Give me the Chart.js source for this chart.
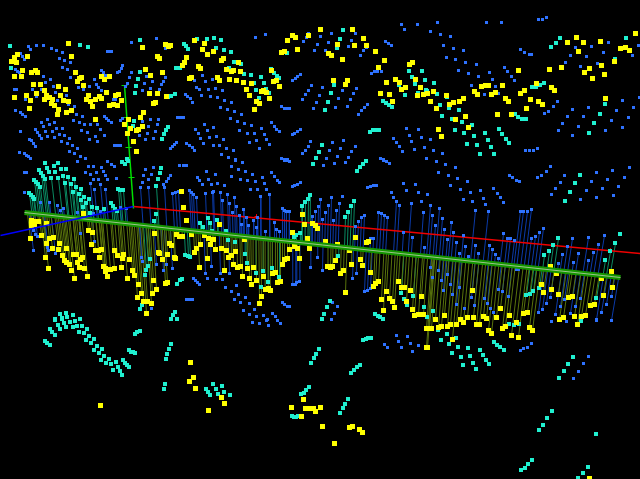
<!DOCTYPE html>
<html>
<head>
<meta charset="utf-8">
<title>3D scatter</title>
<style>
  html, body { margin: 0; padding: 0; background: #000; overflow: hidden; }
  canvas { display: block; }
</style>
<script src="https://cdn.jsdelivr.net/npm/chart.js@4"></script>
</head>
<body>
<canvas id="plot" width="640" height="479"></canvas>
<script>
// Points, [x, y] in projected plot units
const yellowPoints = [
  [68,43],[71,56],[142,47],[27,56],[17,54],[14,57],[11,61],[16,62],[22,70],[14,76],[21,76],[31,72],[35,70],[37,72],[33,84],[40,84],[44,90],[26,95],[14,97],[30,100],[36,93],[46,95],[44,99],[49,97],[52,99],[51,103],[54,105],[58,86],[65,89],[60,95],[63,100],[68,101],[58,109],[57,114],[66,112],[71,110],[29,108],[75,72],[81,77],[77,81],[79,78],[83,85],[101,76],[104,79],[109,76],[106,92],[88,95],[86,99],[90,101],[92,106],[95,99],[99,96],[101,98],[115,95],[118,94],[121,100],[109,105],[113,104],[117,105],[95,119],[124,124],[128,119],[140,117],[143,112],[142,126],[136,130],[138,129],[130,128],[127,133],[133,141],[136,151],[145,69],[150,75],[162,72],[149,93],[157,93],[153,103],[155,102],[166,96],[157,56],[159,58],[165,44],[168,46],[170,45],[194,40],[204,43],[202,49],[207,54],[213,51],[186,57],[184,62],[182,65],[198,66],[200,68],[189,78],[191,77],
  [320,29],[352,29],[292,35],[295,37],[287,40],[308,35],[297,49],[281,52],[284,51],[337,44],[354,45],[363,38],[366,45],[375,51],[328,53],[331,55],[342,59],[384,60],[378,67],[409,64],[412,62],[415,79],[386,82],[395,79],[399,82],[401,89],[405,87],[420,87],[380,93],[389,94],[392,101],[417,95],[423,94],[333,80],[347,80],[345,84],[221,60],[223,58],[238,62],[226,69],[231,71],[233,70],[240,71],[217,77],[219,80],[229,79],[236,80],[243,82],[251,83],[271,70],[273,81],[276,80],[279,86],[246,89],[249,95],[261,91],[263,90],[266,92],[269,98],[256,101],[259,103],[254,109],
  [576,37],[567,42],[583,42],[600,41],[635,33],[620,48],[625,47],[629,50],[578,51],[614,61],[601,65],[589,68],[584,72],[604,74],[592,78],[561,67],[549,69],[518,70],[536,83],[551,87],[554,90],[524,90],[520,93],[530,99],[538,101],[542,104],[526,108],[605,98],[502,85],[481,86],[485,85],[488,85],[474,91],[477,94],[491,94],[495,92],[505,98],[508,101],[497,114],[511,114],[446,95],[463,98],[459,101],[453,102],[449,104],[430,101],[433,91],[427,93],[436,108],[465,116],[455,119],[468,127],[438,129],[441,136],
  [181,191],[183,207],[186,220],[83,213],[31,220],[35,221],[38,221],[31,225],[34,224],[46,223],[30,238],[41,235],[49,238],[53,237],[46,243],[59,243],[52,248],[58,249],[66,248],[45,257],[48,268],[62,255],[64,260],[66,262],[69,264],[71,270],[74,278],[73,254],[76,254],[77,262],[82,257],[80,259],[79,267],[84,268],[87,276],[88,230],[92,232],[91,244],[95,250],[98,250],[101,249],[99,257],[103,266],[105,268],[107,276],[105,271],[110,269],[114,268],[114,250],[117,255],[123,254],[122,258],[121,267],[129,259],[127,278],[132,270],[134,275],[138,284],[141,293],[137,297],[143,301],[147,301],[151,303],[146,313],[152,293],[156,289],[153,280],[154,233],[158,252],[159,253],[162,259],[167,254],[165,283],[167,282],[169,243],[171,245],[174,257],[175,258],[176,234],[182,236],[179,236],[191,234],[196,248],[194,252],[200,244],[199,267],[204,235],[207,258],[208,238],[212,239],[210,244],
  [219,224],[302,214],[304,224],[312,223],[315,225],[317,228],[292,232],[307,238],[355,237],[366,242],[368,241],[325,241],[294,246],[289,249],[297,248],[309,248],[299,258],[337,244],[349,250],[335,260],[327,266],[330,267],[332,266],[343,270],[340,273],[351,264],[360,259],[362,265],[370,272],[345,292],[215,249],[221,248],[226,250],[235,251],[231,255],[228,257],[233,264],[240,266],[237,267],[224,270],[247,268],[253,267],[242,276],[249,278],[251,284],[256,280],[263,276],[261,296],[259,303],[265,289],[270,290],[268,288],[272,273],[275,272],[277,282],[280,281],[282,264],[284,259],[287,258],[373,286],[375,283],[378,281],[386,291],[381,299],[389,298],[392,301],[394,307],[383,310],[398,281],[401,287],[404,287],[410,290],[406,301],[421,296],[412,309],[414,315],[418,314],[423,314],[244,239],[213,239],
  [472,290],[500,308],[523,313],[527,312],[509,315],[444,315],[467,317],[473,317],[483,316],[486,318],[496,317],[435,319],[460,319],[541,284],[543,292],[551,289],[558,294],[568,297],[572,296],[550,266],[556,273],[611,271],[601,278],[612,287],[603,295],[590,305],[594,304],[574,316],[581,316],[585,315],[563,317],[559,319],
  [100,405],[190,362],[193,377],[189,381],[195,388],[208,410],[221,397],[224,403],[303,399],[291,407],[305,408],[309,408],[313,408],[320,407],[315,411],[301,416],[322,426],[349,427],[352,426],[359,429],[362,432],[334,443],[426,328],[426,347],
  [429,328],[431,328],[438,327],[441,326],[447,326],[450,324],[456,324],[463,322],[476,324],[479,324],[488,330],[491,333],[502,328],[505,326],[511,335],[518,337],[516,322],[529,327],[532,330],[452,339],[427,347],[577,324],[589,478]
];

const cyanPoints = [
  [10,46],[80,45],[88,47],[140,40],[11,68],[140,72],[138,79],[136,86],[135,93],[134,121],[133,126],[127,159],[162,139],[164,134],[166,130],[168,127],[168,97],[171,96],[175,94],[176,68],[180,68],[184,44],[186,46],[188,49],[197,39],[207,39],
  [214,38],[221,40],[216,48],[224,50],[231,52],[234,62],[241,64],[229,68],[244,74],[251,75],[261,77],[264,83],[254,83],[256,90],[259,98],[266,89],[269,93],[271,69],[274,73],[277,76],[279,78],[287,53],[343,30],[340,39],[337,48],[334,85],[331,93],[328,102],[325,110],[383,101],[386,103],[389,105],[392,107],[370,132],[373,130],[376,130],[379,130],[322,145],[319,152],[316,158],[409,71],[412,77],[415,84],[418,93],[405,95],[422,71],[425,80],[399,85],[426,90],
  [560,38],[556,43],[551,47],[626,38],[544,83],[540,85],[536,87],[532,87],[434,83],[437,94],[440,105],[449,108],[447,97],[459,110],[442,116],[452,119],[462,122],[455,130],[464,133],[472,125],[474,136],[485,133],[488,140],[467,144],[477,145],[491,147],[480,154],[494,154],[499,129],[502,134],[506,139],[509,143],[515,114],[518,117],[522,119],[526,119],[605,104],[600,114],[594,123],[589,133],[615,59],[427,91],
  [45,163],[54,166],[58,163],[39,170],[47,168],[49,172],[55,172],[61,169],[66,169],[41,173],[43,176],[45,179],[51,178],[58,178],[63,176],[68,177],[74,179],[65,183],[71,184],[34,180],[36,182],[38,184],[40,187],[76,187],[81,189],[73,192],[79,194],[84,197],[89,199],[81,200],[86,203],[92,207],[97,208],[104,209],[83,207],[90,213],[29,193],[31,195],[33,197],[34,199],[118,189],[120,190],[123,190],[111,203],[113,206],[115,209],[117,211],[122,162],[125,164],[128,161],[161,168],[160,173],[158,179],[156,186],[156,214],[154,221],[200,223],[203,227],[208,218],[210,223],[212,231],[182,279],[180,280],[177,284],[188,256],[185,255],[190,257],[177,319],[175,312],[173,315],[171,319],[142,305],[140,309],[145,275],[146,270],[148,266],[150,259],[60,314],[66,313],[73,315],[62,318],[67,317],[80,319],[55,319],
  [313,164],[357,171],[360,167],[363,164],[366,161],[310,195],[308,199],[305,202],[302,206],[354,201],[351,206],[348,212],[345,217],[217,220],[300,233],[296,235],[294,237],[226,231],[338,256],[245,254],[330,301],[327,307],[324,314],[322,319],[375,314],[378,316],[380,317],[383,319],[401,293],[404,299],[407,305],[413,296],[424,307],[228,240],[235,242],[247,263],[256,273],[263,271],[272,268],[261,287],[268,282],[279,277],
  [580,175],[575,183],[570,192],[565,201],[558,238],[553,245],[549,251],[544,255],[620,234],[615,243],[610,251],[605,260],[526,295],[530,294],[533,291],[539,288],[596,298],[433,311],[427,317],
  [50,329],[52,332],[55,335],[45,341],[47,343],[50,345],[55,320],[58,325],[60,329],[62,319],[64,323],[66,327],[70,322],[75,321],[80,319],[73,327],[77,326],[82,326],[79,332],[84,333],[87,329],[89,336],[94,339],[86,340],[91,343],[97,346],[102,349],[94,350],[99,353],[104,356],[109,359],[101,360],[106,363],[111,364],[116,362],[118,367],[113,370],[120,371],[122,375],[123,360],[125,363],[127,365],[129,367],[129,350],[131,352],[133,352],[135,353],[135,334],[137,332],[140,331],[171,344],[169,349],[167,354],[166,359],[165,384],[164,389],[213,384],[206,389],[208,392],[210,395],
  [222,386],[216,389],[224,392],[218,394],[230,395],[319,349],[316,354],[314,358],[311,363],[363,340],[366,339],[368,338],[371,338],[360,365],[357,367],[354,370],[351,373],[309,387],[306,390],[304,393],[301,394],[348,399],[345,404],[343,408],[340,413],[292,416],[294,417],[296,417],[298,416],
  [447,334],[441,340],[438,330],[456,338],[449,344],[458,347],[468,348],[452,353],[461,357],[470,356],[463,365],[473,363],[476,369],[480,350],[483,355],[486,360],[489,364],[494,342],[497,345],[500,347],[504,350],[581,321],[573,357],[568,364],[564,371],[559,378],[552,411],[547,418],[543,425],[539,430],[596,434],[532,460],[528,464],[525,468],[521,470],[588,467],[583,473],[578,478],[509,324],[514,325],[519,324]
];

const bluePoints = [
  [28,46],[30,49],[36,45],[43,45],[51,48],[56,50],[62,52],[59,58],[64,60],[70,62],[62,67],[67,69],[70,77],[43,76],[50,79],[45,82],[53,86],[55,92],[66,95],[57,100],[68,104],[74,106],[76,114],[82,116],[73,120],[79,122],[84,124],[90,124],[97,124],[81,130],[87,132],[95,136],[100,129],[104,135],[89,139],[97,141],[104,116],[106,118],[108,120],[111,122],[120,120],[122,118],[78,87],[83,89],[89,86],[94,79],[96,84],[98,87],[101,90],[101,70],[103,72],[105,75],[117,72],[119,71],[121,68],[122,65],[131,42],[156,38],[131,72],[129,77],[127,83],[125,86],[146,76],[144,83],[142,90],[152,81],[150,88],[165,77],[163,81],[161,84],[159,89],[150,119],[158,119],[157,124],[148,126],[142,121],[155,131],[147,133],[139,135],[153,138],[145,139],[176,142],[174,144],[172,146],[170,148],[186,143],[189,145],[192,147],[194,150],[203,143],[195,129],[198,133],[200,138],[207,130],[209,137],[204,124],[194,80],[202,75],[212,79],[196,87],[205,81],[199,89],[208,89],[201,95],[210,96],[185,94],[187,96],[190,98],[192,102],[165,48],[20,53],[22,56],[24,59],[15,69],[17,71],[19,72],[14,89],[16,89],[32,89],[41,89],[25,99],[36,96],[15,110],[20,112],[22,114],[25,116],[20,131],[35,129],[37,132],[39,135],[41,138],[47,119],[41,122],[49,124],[54,122],[43,126],[45,131],[56,128],[62,128],[52,131],[59,134],[47,136],[54,137],[64,135],[69,138],[61,141],[67,143],[72,145],[77,148],[69,151],[74,153],[80,156],[85,158],[29,139],[31,140],[33,143],[35,146],[19,152],[24,153],[26,155],[28,156],[30,158],[107,51],[109,51],[111,51],[113,99],[115,99],[114,145],[117,145],[120,145],[177,117],[180,117],[183,117],
  [255,37],[265,34],[401,24],[417,24],[404,29],[331,33],[320,36],[308,33],[306,37],[303,41],[317,44],[328,42],[314,50],[325,50],[355,33],[351,40],[348,46],[363,50],[366,47],[360,55],[385,41],[388,43],[391,45],[371,73],[374,71],[377,71],[381,71],[292,80],[295,78],[297,76],[300,74],[311,85],[308,90],[305,94],[302,99],[322,87],[319,95],[316,102],[313,108],[342,90],[338,98],[335,107],[356,88],[353,93],[350,99],[347,106],[367,104],[364,107],[361,110],[358,114],[281,106],[284,108],[286,108],[289,108],[271,122],[274,126],[276,129],[279,131],[292,134],[294,133],[297,131],[300,129],[215,88],[222,90],[217,97],[224,100],[231,102],[220,107],[227,109],[234,111],[241,114],[230,118],[237,121],[244,123],[251,125],[239,130],[247,133],[254,133],[261,128],[264,134],[266,139],[269,144],[256,140],[249,142],[259,148],[213,127],[216,136],[223,139],[213,145],[219,145],[226,148],[233,150],[221,154],[228,157],[235,159],[310,141],[308,146],[305,150],[302,153],[332,142],[329,150],[326,158],[343,140],[340,148],[337,156],[355,146],[351,151],[348,157],[281,158],[284,159],[287,159],[406,128],[418,129],[393,138],[409,135],[421,137],[396,142],[411,141],[399,146],[424,147],[414,149],[402,151],[380,158],[383,159],
  [437,22],[430,31],[440,34],[450,36],[443,45],[453,48],[463,50],[446,57],[455,59],[465,62],[476,64],[458,70],[468,73],[478,76],[489,72],[492,79],[471,85],[484,94],[495,86],[498,93],[486,22],[501,22],[538,19],[542,19],[546,17],[520,49],[524,52],[529,54],[531,54],[504,67],[507,71],[511,76],[514,80],[575,47],[591,46],[608,42],[638,45],[570,55],[586,56],[603,52],[632,55],[565,62],[580,66],[597,63],[557,101],[553,106],[548,111],[544,113],[572,109],[567,116],[562,123],[558,130],[588,107],[583,116],[578,126],[572,135],[622,100],[616,110],[611,120],[605,130],[639,97],[633,107],[628,117],[622,127],[430,139],[433,150],[442,153],[426,158],[525,150],[529,150],[533,150],[537,148],
  [24,172],[26,172],[24,192],[33,250],[77,161],[88,166],[93,166],[101,167],[107,161],[111,164],[114,166],[85,172],[90,174],[96,172],[103,171],[105,175],[107,179],[93,179],[98,179],[90,183],[100,184],[94,189],[105,189],[116,178],[145,169],[153,167],[143,175],[151,174],[148,179],[142,182],[140,187],[148,187],[164,187],[170,175],[168,178],[166,181],[163,184],[197,177],[199,180],[202,184],[206,171],[208,179],[211,184],[205,193],[212,192],[179,165],[183,165],[186,165],[172,193],[175,192],[178,191],[189,190],[191,192],[193,194],[196,197],[49,202],[57,205],[63,208],[60,210],[40,202],[77,212],[93,213],[100,211],[120,207],[126,208],[80,233],[33,230],[35,234],[37,236],[48,250],[47,247],[55,253],[94,241],[193,278],[195,280],[197,282],[199,284],[186,299],[189,299],[192,299],[151,308],[207,278],[205,273],[211,266],[163,270],[156,264],[166,264],[172,268],[141,257],[142,261],
  [215,174],[231,166],[235,160],[242,162],[238,169],[245,171],[252,174],[231,176],[240,179],[247,180],[255,181],[262,177],[271,172],[274,176],[277,180],[279,182],[264,183],[217,183],[224,185],[250,189],[257,189],[266,189],[269,194],[292,186],[294,185],[297,184],[300,182],[284,160],[287,160],[289,161],[323,165],[334,163],[345,162],[383,160],[386,161],[389,163],[367,187],[370,186],[373,185],[376,185],[403,183],[415,184],[406,190],[418,192],[391,192],[393,197],[396,201],[399,205],[411,203],[421,201],[423,212],[213,191],[220,192],[227,194],[234,197],[222,200],[229,203],[236,206],[243,209],[232,212],[239,215],[246,217],[253,220],[260,196],[241,224],[248,225],[257,217],[265,231],[256,227],[282,208],[284,210],[286,211],[289,211],[279,231],[276,229],[274,222],[320,199],[331,197],[342,196],[318,206],[328,205],[339,203],[315,211],[325,212],[336,210],[312,216],[322,219],[333,220],[358,221],[361,217],[364,215],[355,226],[378,212],[381,213],[384,215],[387,217],[373,238],[370,238],[403,232],[412,237],[424,247],[310,267],[317,257],[322,270],[356,273],[352,278],[364,291],[367,290],[370,288],[292,284],[295,284],[296,282],[299,281],[282,302],[284,304],[287,306],[289,306],[216,279],[222,279],[229,273],[220,273],[236,285],[225,287],[231,291],[238,294],[245,297],[234,299],[240,302],[249,303],[243,310],[254,309],[249,314],[256,316],[263,315],[272,313],[275,316],[267,319],[337,306],[332,302],[334,313],[331,319],
  [436,161],[445,164],[455,167],[438,172],[448,175],[457,178],[467,181],[450,185],[460,189],[470,192],[480,190],[493,188],[497,193],[500,197],[503,202],[483,198],[472,201],[463,199],[485,204],[509,175],[512,177],[516,180],[519,181],[427,194],[430,205],[520,211],[523,211],[527,211],[531,209],[550,166],[546,171],[541,175],[537,177],[564,175],[560,182],[555,188],[551,194],[596,172],[591,181],[586,190],[580,199],[612,170],[607,179],[602,188],[596,197],[629,167],[624,177],[618,186],[613,195],[439,208],[432,215],[442,218],[435,225],[451,222],[444,229],[453,232],[447,239],[456,242],[463,235],[465,246],[459,253],[468,256],[475,210],[488,211],[475,245],[478,253],[489,245],[492,249],[495,254],[498,258],[503,233],[507,238],[510,238],[514,240],[531,238],[535,236],[539,232],[543,228],[572,238],[567,246],[562,254],[558,263],[588,237],[578,253],[573,262],[598,244],[593,252],[588,260],[604,235],[430,267],[438,270],[432,277],[441,280],[447,274],[450,284],[459,287],[443,290],[452,294],[471,297],[484,298],[502,291],[498,289],[508,296],[487,303],[464,308],[474,305],[493,312],[490,308],[456,304],[550,297],[546,303],[542,309],[538,312],[564,299],[560,306],[555,314],[580,298],[575,306],[570,313],[611,296],[606,304],[601,312],[596,319],[516,269],[518,269],
  [252,322],[259,323],[266,320],[268,325],[277,320],[280,323],[396,335],[407,336],[398,341],[410,343],[384,344],[418,345],[387,347],[401,347],[412,351],[531,343],[527,347],[523,348],[520,350],[588,356],[583,363],[578,371],[573,378],[551,321],[566,321],[596,320],[611,320]
];

// Axes of the 3D box, [x, y] ends
const greenBand = [[24,212],[620,277]];
const redAxis = [[133,206],[640,253]];
const blueAxis = [[0,235],[133,206]];
const greenAxis = [[124,85],[133,208]];
const greenTicks = [[124,85],[126,117],[128,147],[131,177]];
const redTicks = [[256,216],[610,250]];

// depth limits for which points get a stem down/up to the band
const YELLOW_STEM_DEPTH = 100;
const BELOW_STEM_DEPTH = 45;

function bandY(x) {
  const [a, b] = greenBand;
  return a[1] + (x - a[0]) * (b[1] - a[1]) / (b[0] - a[0]);
}

// stems converge slightly towards a point far below the plot
function stemFrom(p) {
  const base = bandY(p[0]);
  const xb = p[0] + (280 - p[0]) * (base - p[1]) / 2000;
  return [{ x: p[0], y: p[1] }, { x: xb, y: bandY(xb) }, { x: NaN, y: NaN }];
}

function stemsFor(points, keep) {
  return points
    .filter(p => p[0] > 24 && p[0] < 620 && keep(p, p[1] - bandY(p[0])))
    .flatMap(stemFrom);
}

const yellowStems = stemsFor(yellowPoints, (p, d) => d > 0 && d < YELLOW_STEM_DEPTH);
const blueStems = stemsFor(bluePoints, (p, d) => (d > 0 && d < BELOW_STEM_DEPTH) || (d <= 0 && -d < 33 + 0.05 * p[0]));
const cyanStems = stemsFor(cyanPoints, (p, d) => (d > 0 && d < BELOW_STEM_DEPTH) || (d <= 0 && -d < 40 + 0.03 * p[0]));

const toXY = pts => pts.map(p => ({ x: p[0], y: p[1] }));

function lineSet(data, color, width) {
  return { type: 'line', data: data, borderColor: color, borderWidth: width, pointRadius: 0, spanGaps: false, tension: 0, xAxisID: 'xOdd', yAxisID: 'yOdd' };
}

// side of the square marker in px -> chart.js rect radius
function markerSet(points, color, side, even) {
  return {
    type: 'scatter', data: toXY(points), backgroundColor: color, borderWidth: 0,
    pointStyle: 'rect', pointRadius: side * Math.SQRT1_2, pointHoverRadius: side * Math.SQRT1_2,
    xAxisID: even ? 'x' : 'xOdd', yAxisID: even ? 'y' : 'yOdd',
  };
}

const tickSegs = greenTicks.flatMap(p => [{ x: p[0] - 3, y: p[1] }, { x: p[0] + 3, y: p[1] }, { x: NaN, y: NaN }]);
const redTickSegs = redTicks.flatMap(p => [{ x: p[0] - 2, y: p[1] }, { x: p[0] + 2, y: p[1] }, { x: NaN, y: NaN },
  { x: p[0], y: p[1] - 2 }, { x: p[0], y: p[1] + 2 }, { x: NaN, y: NaN }]);

// first dataset is drawn on top
new Chart(document.getElementById('plot'), {
  data: {
    datasets: [
      lineSet(toXY(blueAxis), '#0000ff', 1.5),
      lineSet(toXY(greenBand), '#9cc48c', 1),
      lineSet(toXY(greenBand), '#149600', 5),
      markerSet(yellowPoints, '#ffff00', 5, false),
      markerSet(cyanPoints, '#20f0d0', 4, true),
      markerSet(bluePoints, '#2e72ff', 3, false),
      lineSet(toXY(greenAxis), '#00e000', 1.5),
      lineSet(tickSegs, '#00e000', 1),
      lineSet(redTickSegs, '#ff0000', 1),
      lineSet(toXY(redAxis), '#f00000', 1.5),
      lineSet(yellowStems, '#58720c', 1),
      lineSet(cyanStems, '#0a8a62', 1),
      lineSet(blueStems, '#0b3aa8', 1),
    ],
  },
  options: {
    responsive: false,
    animation: false,
    events: [],
    layout: { padding: 0, autoPadding: false },
    plugins: { legend: { display: false }, tooltip: { enabled: false } },
    scales: {
      x: { type: 'linear', display: false, min: 0, max: 640 },
      y: { type: 'linear', display: false, min: 0, max: 479, reverse: true },
      // half-pixel offset so odd sized squares sit on whole pixels
      xOdd: { type: 'linear', display: false, min: -0.5, max: 639.5 },
      yOdd: { type: 'linear', display: false, min: -0.5, max: 478.5, reverse: true },
    },
  },
});
</script>
</body>
</html>
